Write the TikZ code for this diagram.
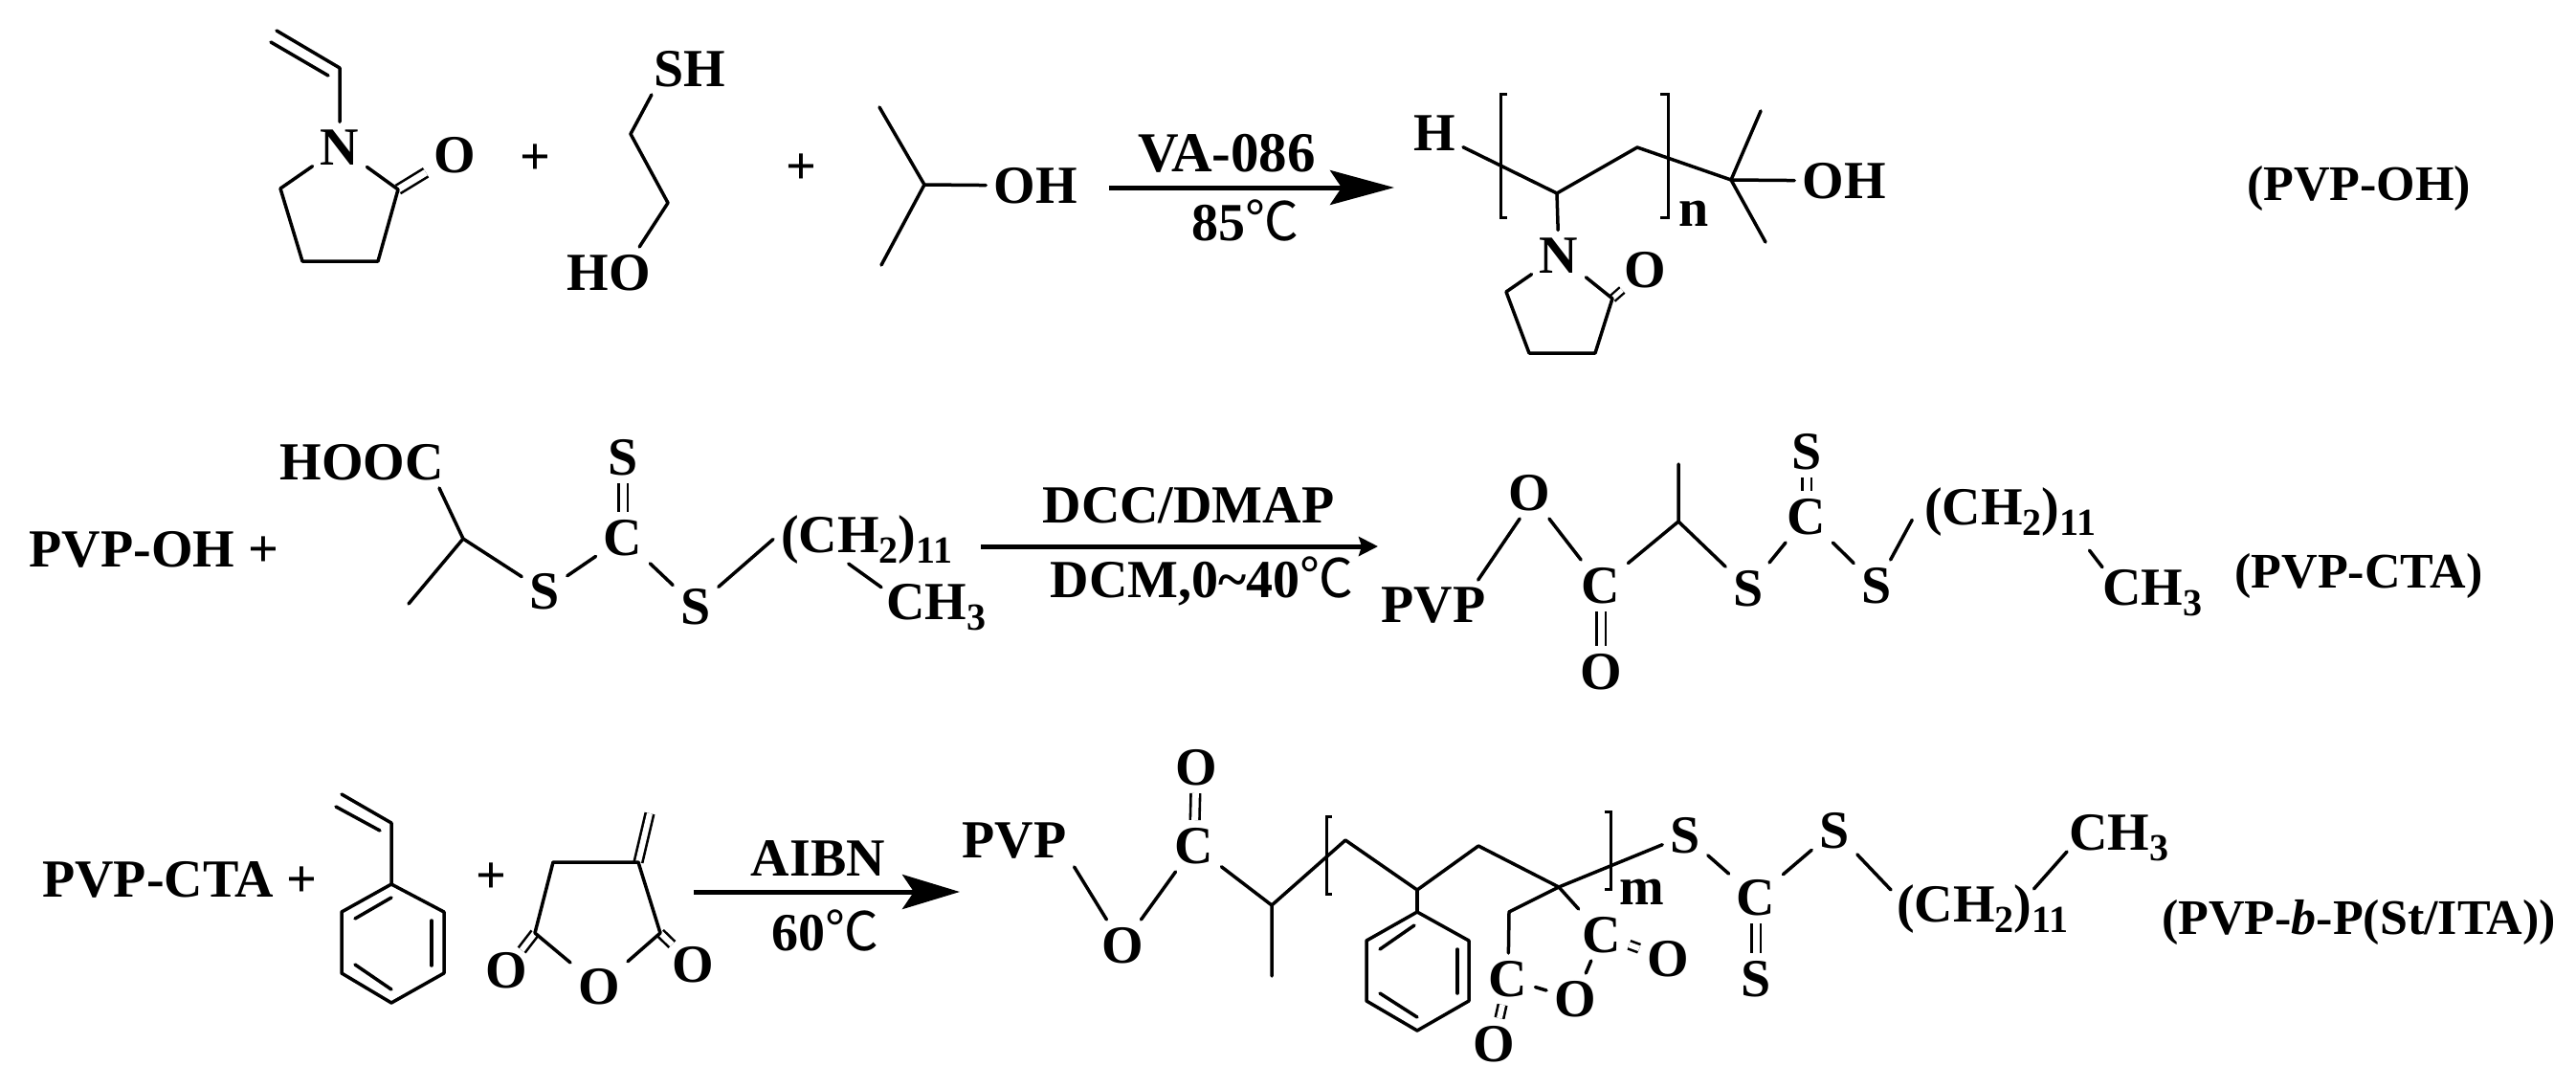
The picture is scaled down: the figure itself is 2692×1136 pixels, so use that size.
\documentclass[tikz,border=0pt]{standalone}
\usepackage{fontspec}
\setmainfont{Liberation Serif}
\newfontfamily\cjk{Noto Sans CJK SC}
\usetikzlibrary{arrows.meta}
\newcommand{\low}[1]{\raisebox{-11pt}{\fontsize{40}{40}\selectfont #1}}
\newcommand{\degC}{{\cjk\mdseries ℃}}

\begin{document}
\begin{tikzpicture}[x=1pt,y=-1pt,
    atom/.style={font=\fontsize{56}{60}\selectfont\bfseries, inner sep=8pt},
    molname/.style={font=\fontsize{52}{60}\selectfont\bfseries, inner sep=3pt},
    bond/.style={draw, line width=3.5pt, line cap=round, line join=round},
    dbl/.style={draw, line width=2.6pt, double, double distance=7pt},
    brk/.style={draw, line width=3pt},
    rxn/.style={draw, line width=5pt}]
    \useasboundingbox (0,0) rectangle (2692,1136);

    % first row
    \coordinate (av1) at (289,32);
    \coordinate (av2) at (355,71);
    \coordinate (av3) at (283,44);
    \coordinate (av4) at (343,79);
    \coordinate (ar1) at (293,197);
    \coordinate (ar2) at (316,273);
    \coordinate (ar3) at (395,273);
    \coordinate (ar4) at (416,198);
    \node[atom] (an) at (355,154) {N};
    \node[atom] (ao) at (475,162) {O};
    \draw[dbl] (ar4) -- (ao);
    \draw[bond] (av1) -- (av2) -- (an);
    \draw[bond] (av3) -- (av4);
    \draw[bond] (an) -- (ar1) -- (ar2) -- (ar3) -- (ar4) -- (an);
    \node[atom] (plusa) at (559,167) {+};
    \coordinate (ae1) at (659,140);
    \coordinate (ae2) at (698,212);
    \node[atom] (ash) at (721,72) {SH};
    \node[atom] (aho) at (636,285) {HO};
    \draw[bond] (ash.214) -- (ae1) -- (ae2) -- (aho.40);
    \node[atom] (plusb) at (837,177) {+};
    \coordinate (ai1) at (919,112);
    \coordinate (ai2) at (966,193);
    \coordinate (ai3) at (921,277);
    \node[atom] (aoh) at (1082,194) {OH};
    \draw[bond] (ai1) -- (ai2) -- (ai3);
    \draw[bond] (ai2) -- (aoh);
    \coordinate (aa1) at (1159,196);
    \coordinate (aa2) at (1457,196);
    \draw[rxn, -{Stealth[length=67pt,width=36pt,inset=12pt]}] (aa1) -- (aa2);
    \node[atom, font=\fontsize{59}{60}\selectfont\bfseries] (ava) at (1282,160) {VA-086};
    \node[atom] (atemp) at (1301,230) {85\degC};
    % product
    \node[atom] (ah) at (1499,139) {H};
    \coordinate (ap1) at (1627,202);
    \coordinate (ap2) at (1711,154);
    \coordinate (ap3) at (1809,188);
    \coordinate (ap4) at (1840,116);
    \coordinate (ap5) at (1845,253);
    \node[atom] (apoh) at (1927,189) {OH};
    \draw[bond] (ah) -- (ap1) -- (ap2) -- (ap3) -- (ap4);
    \draw[bond] (ap3) -- (ap5);
    \draw[bond] (ap3) -- (apoh);
    \coordinate (abl1) at (1575,98);
    \coordinate (abl2) at (1575,227);
    \coordinate (abr1) at (1735,98);
    \coordinate (abr2) at (1735,227);
    \draw[brk] (abl1) -- ++(-7,0) |- (abl2);
    \draw[brk] (abr1) -- ++(8,0) |- (abr2);
    \node[atom] (an2) at (1770,223) {n};
    \node[atom] (apn) at (1629,267) {N};
    \node[atom, inner sep=2pt] (apo) at (1719,282) {O};
    \coordinate (aq1) at (1574,305);
    \coordinate (aq2) at (1598,369);
    \coordinate (aq3) at (1667,369);
    \coordinate (aq4) at (1685,312);
    \draw[dbl, line width=2.4pt, double distance=5pt] (aq4) -- (apo);
    \draw[bond] (ap1) -- (apn);
    \draw[bond] (apn) -- (aq1) -- (aq2) -- (aq3) -- (aq4) -- (apn);
    \node[molname] (apvpoh) at (2465,197) {(PVP-OH)};

    % second row
    \node[atom] (bpvp) at (161,574) {PVP-OH +};
    \node[atom] (bhooc) at (378,483) {HOOC};
    \coordinate (bm1) at (484,563);
    \coordinate (bm2) at (427,631);
    \node[atom] (bs1) at (569,618) {S};
    \node[atom] (bc) at (651,562) {C};
    \node[atom] (bs2) at (651,478) {S};
    \node[atom] (bs3) at (727,634) {S};
    \node[atom, anchor=base west] (bch) at (808,577) {(CH\low{2})\low{11}};
    \node[atom, anchor=base west] (bch3) at (918,647) {CH\low{3}};
    \draw[bond] ([xshift=81pt]bhooc.south) -- (bm1) -- (bm2);
    \draw[bond] (bm1) -- (bs1) -- (bc) -- (bs3);
    \draw[dbl] (bc) -- (bs2);
    \draw[bond] (bs3) -- (bch.west);
    \draw[bond] ([shift={(-19,-8)}]bch.south) -- ([shift={(3,12)}]bch3.north west);
    \coordinate (ba1) at (1025,571);
    \coordinate (ba2) at (1440,571);
    \draw[rxn, -{Stealth[length=20pt,width=20pt,inset=3pt]}] (ba1) -- (ba2);
    \node[atom] (bdcc) at (1242,528) {DCC/DMAP};
    \node[atom] (bdcm) at (1256,607) {DCM,0\textasciitilde40\degC};
    % product
    \node[atom] (co1) at (1598,515) {O};
    \node[atom] (cpvp) at (1498,633) {PVP};
    \node[atom] (cc1) at (1673,612) {C};
    \node[atom] (co2) at (1673,702) {O};
    \coordinate (cm1) at (1754,545);
    \coordinate (cm2) at (1754,485);
    \node[atom] (cs1) at (1827,615) {S};
    \node[atom] (cc2) at (1888,540) {C};
    \node[atom] (cs2) at (1888,472) {S};
    \node[atom] (cs3) at (1961,612) {S};
    \node[atom, anchor=base west] (cch) at (2003,548) {(CH\low{2})\low{11}};
    \node[atom, anchor=base west] (cch3) at (2189,632) {CH\low{3}};
    \node[molname] (cname) at (2465,602) {(PVP-CTA)};
    \draw[dbl] (cc1) -- (co2);
    \draw[dbl] (cc2) -- (cs2);
    \draw[bond] (co1.250) -- (cpvp.30);
    \draw[bond] (co1) -- (cc1);
    \draw[bond] (cc1) -- (cm1) -- (cm2);
    \draw[bond] (cm1) -- (cs1) -- (cc2) -- (cs3);
    \draw[bond, shorten >=10pt] (cs3) -- (cch.west);
    \draw[bond] ([shift={(-15,7)}]cch.south east) -- ([shift={(8,6)}]cch3.north west);

    % third row
    \node[atom] (dpvp) at (188,919) {PVP-CTA +};
    \coordinate (ds1) at (357,830);
    \coordinate (ds2) at (409,860);
    \coordinate (ds3) at (351,843);
    \coordinate (ds4) at (397,868);
    \coordinate (dr1) at (409,924);
    \coordinate (dr2) at (464,953);
    \coordinate (dr3) at (464,1017);
    \coordinate (dr4) at (409,1048);
    \coordinate (dr5) at (357,1017);
    \coordinate (dr6) at (357,953);
    \coordinate (di1) at (371,960);
    \coordinate (di2) at (409,938);
    \coordinate (di3) at (451,962);
    \coordinate (di4) at (451,1009);
    \coordinate (di5) at (371,1008);
    \coordinate (di6) at (409,1034);
    \draw[bond] (ds1) -- (ds2) -- (dr1);
    \draw[bond] (ds3) -- (ds4);
    \draw[bond] (dr1) -- (dr2) -- (dr3) -- (dr4) -- (dr5) -- (dr6) -- cycle;
    \draw[bond] (di1) -- (di2);
    \draw[bond] (di3) -- (di4);
    \draw[bond] (di5) -- (di6);
    \node[atom] (plusc) at (513,918) {+};
    \coordinate (dt1) at (578,901);
    \coordinate (dt2) at (667,901);
    \coordinate (dt3) at (690,975);
    \coordinate (dt4) at (559,975);
    \coordinate (dt5) at (679,850);
    \node[atom] (dto) at (626,1031) {O};
    \node[atom, inner sep=2pt] (dtl) at (529,1014) {O};
    \node[atom, inner sep=2pt] (dtr) at (724,1008) {O};
    \draw[dbl, double distance=6pt] (dt4) -- (dtl);
    \draw[dbl, double distance=6pt] (dt3) -- (dtr);
    \draw[dbl, double distance=6pt] (dt2) -- (dt5);
    \draw[bond] (dto) -- (dt4) -- (dt1) -- (dt2) -- (dt3) -- (dto);
    \coordinate (da1) at (725,932);
    \coordinate (da2) at (1003,932);
    \draw[rxn, -{Stealth[length=60pt,width=36pt,inset=12pt]}] (da1) -- (da2);
    \node[atom] (daibn) at (855,897) {AIBN};
    \node[atom] (dtemp) at (862,972) {60\degC};
    % product
    \node[atom] (epvp) at (1060,879) {PVP};
    \node[atom] (eo1) at (1173,988) {O};
    \node[atom] (ec1) at (1248,884) {C};
    \node[atom] (eo2) at (1250,802) {O};
    \coordinate (em1) at (1329,946);
    \coordinate (em2) at (1329,1020);
    \coordinate (em3) at (1406,878);
    \coordinate (em4) at (1481,930);
    \coordinate (em5) at (1545,884);
    \coordinate (em6) at (1629,927);
    \coordinate (em7) at (1577,953);
    \coordinate (ep1) at (1481,953);
    \coordinate (ep2) at (1535,983);
    \coordinate (ep3) at (1535,1046);
    \coordinate (ep4) at (1481,1077);
    \coordinate (ep5) at (1428,1046);
    \coordinate (ep6) at (1428,983);
    \coordinate (ei1) at (1442,992);
    \coordinate (ei2) at (1478,967);
    \coordinate (ei3) at (1523,992);
    \coordinate (ei4) at (1523,1038);
    \coordinate (ei5) at (1442,1038);
    \coordinate (ei6) at (1481,1063);
    \node[atom] (es1) at (1761,873) {S};
    \node[atom] (em) at (1716,932) {m};
    \node[atom] (ec2) at (1576,1023) {C};
    \node[atom] (ec3) at (1674,977) {C};
    \node[atom] (eo3) at (1743,1002) {O};
    \node[atom] (eo4) at (1646,1044) {O};
    \node[atom] (eo5) at (1561,1091) {O};
    \node[atom] (ec4) at (1835,938) {C};
    \node[atom] (es2) at (1835,1023) {S};
    \node[atom] (es3) at (1917,868) {S};
    \node[atom, anchor=base west] (ech) at (1974,963) {(CH\low{2})\low{11}};
    \node[atom, anchor=base west] (ech3) at (2154,888) {CH\low{3}};
    \node[molname] (ename) at (2465,964) {(PVP-\textit{b}-P(St/ITA))};
    \draw[dbl] (ec1) -- (eo2);
    \draw[dbl] (ec4) -- (es2);
    \draw[dbl, double distance=6pt] (ec3) -- (eo3);
    \draw[dbl, double distance=6pt] (ec2) -- (eo5);
    \draw[bond] (epvp.south east) -- (eo1) -- (ec1) -- (em1) -- (em2);
    \draw[bond] (em1) -- (em3) -- (em4) -- (em5) -- (em6) -- (es1);
    \draw[bond] (em4) -- (ep1);
    \draw[bond] (ep1) -- (ep2) -- (ep3) -- (ep4) -- (ep5) -- (ep6) -- cycle;
    \draw[bond] (ei1) -- (ei2);
    \draw[bond] (ei3) -- (ei4);
    \draw[bond] (ei5) -- (ei6);
    \draw[bond] (em6) -- (em7) -- (ec2);
    \draw[bond] (em6) -- (ec3);
    \draw[bond] (ec2) -- (eo4) -- (ec3);
    \coordinate (ebl1) at (1392,853);
    \coordinate (ebl2) at (1392,934);
    \coordinate (ebr1) at (1677,848);
    \coordinate (ebr2) at (1677,929);
    \draw[brk] (ebl1) -- ++(-6,0) |- (ebl2);
    \draw[brk] (ebr1) -- ++(6,0) |- (ebr2);
    \draw[bond] (es1) -- (ec4) -- (es3) -- ([shift={(2,14)}]ech.north west);
    \draw[bond] ([shift={(-44,13)}]ech.north east) -- ([shift={(6,2)}]ech3.base west);
\end{tikzpicture}
\end{document}
